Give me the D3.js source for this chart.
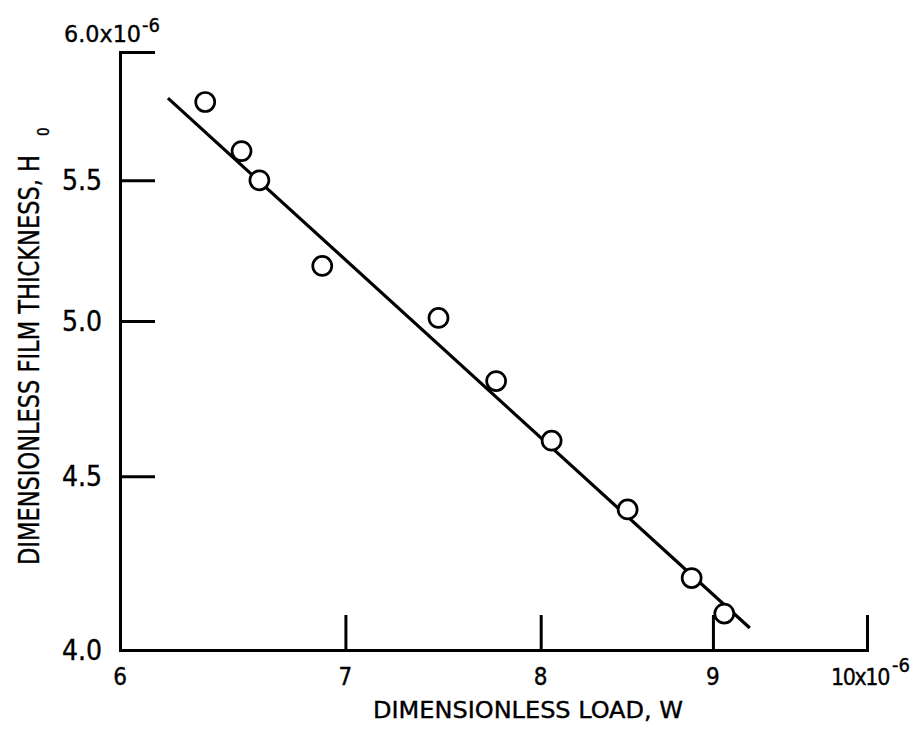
<!DOCTYPE html>
<html>
<head>
<meta charset="utf-8">
<script src="https://cdn.jsdelivr.net/npm/d3@7"></script>
<style>
  html, body { margin: 0; padding: 0; background: #fff; }
  svg { display: block; }
  text { font-family: 'Liberation Sans Narrow', 'DejaVu Sans Condensed', 'Roboto Condensed', sans-serif; fill: #000; stroke: #000; stroke-width: 0.35px; }
</style>
</head>
<body>
<svg id="chart" width="924" height="730"></svg>
<script>
// Data (units of 1e-6)
const loadW = [6.36, 6.52, 6.60, 6.89, 7.46, 7.76, 8.06, 8.49, 8.87, 9.07];
const filmH = [5.80, 5.61, 5.50, 5.19, 5.01, 4.80, 4.61, 4.40, 4.20, 4.10];
const fitW = [6.20, 9.23];
const fitH = [5.815, 4.06];
const xTicks = [6, 7, 8, 9, 10];
const yTicks = [4.0, 4.5, 5.0, 5.5, 6.0];
const xTickLabels = ["6", "7", "8", "9", "10x10"];
const yTickLabels = ["4.0", "4.5", "5.0", "5.5", "6.0x10"];
const expLabel = "-6";
const xTitle = "DIMENSIONLESS LOAD, W";
const yTitle = "DIMENSIONLESS FILM THICKNESS, H";
const yTitleSub = "0";

const svg = d3.select("#chart");
const x = d3.scaleLog().domain([6, 10]).range([120, 867]);
const y = d3.scaleLog().domain([4, 6]).range([650, 52]);

const sw = 3;

// Axes (inward ticks)
const gx = svg.append("g").attr("transform", `translate(0,${y(4)})`)
  .call(d3.axisBottom(x).tickValues(xTicks.slice(1)).tickSize(-35).tickSizeOuter(0).tickFormat(""));
const gy = svg.append("g").attr("transform", `translate(${x(6)},0)`)
  .call(d3.axisLeft(y).tickValues(yTicks.slice(1)).tickSize(-35).tickSizeOuter(0).tickFormat(""));
[gx, gy].forEach(g => {
  g.selectAll("path.domain").attr("stroke", "#000").attr("stroke-width", sw).attr("stroke-linecap", "square");
  g.selectAll(".tick line").attr("stroke", "#000").attr("stroke-width", sw);
});

// X tick labels
xTicks.forEach((t, i) => {
  if (i < xTicks.length - 1) {
    svg.append("text").attr("x", x(t)).attr("y", 685)
      .attr("text-anchor", "middle").attr("font-size", 24).text(xTickLabels[i]);
  } else {
    svg.append("text").attr("x", 831).attr("y", 685).attr("font-size", 23)
      .attr("letter-spacing", -1.4).text(xTickLabels[i]);
    svg.append("text").attr("x", 892).attr("y", 672).attr("font-size", 20).text(expLabel);
  }
});

// Y tick labels
yTicks.forEach((t, i) => {
  if (i < yTicks.length - 1) {
    svg.append("text").attr("x", 102).attr("y", y(t) + 10)
      .attr("text-anchor", "end").attr("font-size", 28).text(yTickLabels[i]);
  } else {
    svg.append("text").attr("x", 64).attr("y", 42).attr("font-size", 23)
      .attr("textLength", 77).attr("lengthAdjust", "spacingAndGlyphs").text(yTickLabels[i]);
    svg.append("text").attr("x", 142).attr("y", 32).attr("font-size", 20).text(expLabel);
  }
});

// Axis titles
svg.append("text").attr("x", 373).attr("y", 718).attr("font-size", 23.5)
  .attr("textLength", 310).attr("lengthAdjust", "spacingAndGlyphs").text(xTitle);

svg.append("text").attr("transform", "translate(39,565) rotate(-90)").attr("font-size", 29)
  .attr("textLength", 410).attr("lengthAdjust", "spacingAndGlyphs").text(yTitle);
svg.append("text").attr("transform", "translate(49,136) rotate(-90)").attr("font-size", 15).text(yTitleSub);

// Fitted line
const fit = fitW.map((w, i) => [w, fitH[i]]);
svg.append("path").datum(fit)
  .attr("d", d3.line().x(d => x(d[0])).y(d => y(d[1])))
  .attr("fill", "none").attr("stroke", "#000").attr("stroke-width", 3.2);

// Data points
svg.selectAll("circle.pt").data(loadW.map((w, i) => [w, filmH[i]]))
  .enter().append("circle").attr("class", "pt")
  .attr("cx", d => x(d[0])).attr("cy", d => y(d[1])).attr("r", 9.5)
  .attr("fill", "#fff").attr("stroke", "#000").attr("stroke-width", 2.7);
</script>
</body>
</html>
